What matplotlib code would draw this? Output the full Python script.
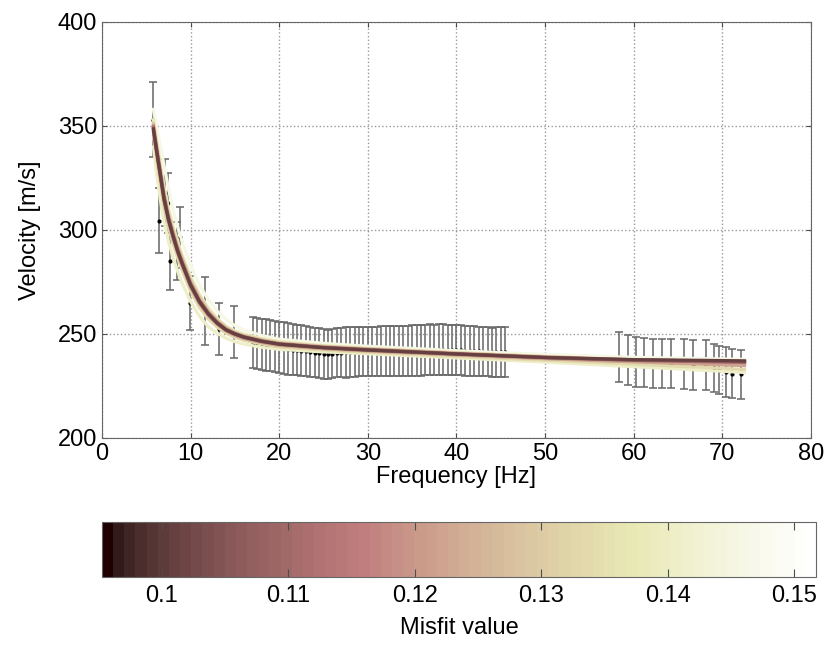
import numpy as np
import matplotlib
matplotlib.use('Agg')
import matplotlib.pyplot as plt
from matplotlib.colors import Normalize
from matplotlib.cm import ScalarMappable

plt.rcParams['font.family'] = ['Liberation Sans', 'DejaVu Sans']

# Measured dispersion data (frequency, velocity, error)
freq_low = [5.8, 6.4, 7.1, 7.5, 7.7, 8.5, 8.8, 9.9, 11.6, 13.2, 14.9]
vel_low = [353, 304.5, 318, 313, 285, 290, 296.5, 265, 261, 252.5, 251]
err_low = [18, 15.5, 16, 14.5, 14, 14, 14.7, 13, 16.5, 12.6, 12.5]

freq_mid = [17.0, 17.5, 18.0, 18.5, 19.0, 19.5, 20.0, 20.5, 21.0, 21.5,
            22.0, 22.5, 23.0, 23.5, 24.0, 24.5, 25.0, 25.5, 26.0, 26.5,
            27.0, 27.5, 28.0, 28.5, 29.0, 29.5, 30.0, 30.5, 31.0, 31.5,
            32.0, 32.5, 33.0, 33.5, 34.0, 34.5, 35.0, 35.5, 36.0, 36.5,
            37.0, 37.5, 38.0, 38.5, 39.0, 39.5, 40.0, 40.5, 41.0, 41.5,
            42.0, 42.5, 43.0, 43.5, 44.0, 44.5, 45.0, 45.5]
vel_mid = [245.9, 245.5, 245.1, 244.7, 244.3, 244.0, 243.6, 243.2, 242.8, 242.5,
           242.3, 242.0, 241.8, 241.5, 241.1, 240.7, 240.3, 240.2, 240.6, 240.9,
           241.1, 241.2, 241.3, 241.3, 241.4, 241.5, 241.5, 241.6, 241.7, 241.7,
           241.8, 241.8, 241.8, 241.8, 241.8, 241.9, 242.0, 242.1, 242.2, 242.3,
           242.4, 242.4, 242.5, 242.5, 242.4, 242.3, 242.3, 242.2, 242.0, 241.9,
           241.8, 241.6, 241.5, 241.4, 241.3, 241.3, 241.3, 241.3]
err_mid = [12.4, 12.4, 12.3, 12.3, 12.3, 12.2, 12.3, 12.4, 12.4, 12.3,
           12.2, 12.1, 12.0, 12.0, 12.0, 12.0, 12.0, 11.9, 11.8, 11.8,
           12.0, 12.2, 12.1, 12.0, 11.8, 11.7, 11.7, 11.8, 11.9, 12.0,
           12.0, 12.0, 12.0, 12.0, 12.0, 12.0, 12.1, 12.1, 12.2, 12.2,
           12.2, 12.1, 12.1, 12.1, 12.0, 12.0, 12.0, 12.0, 12.0, 12.0,
           12.0, 11.9, 11.9, 11.8, 11.8, 11.9, 11.9, 11.9]

freq_high = [58.3, 59.3, 60.3, 61.2, 62.2, 63.2, 64.2, 65.7, 66.7, 68.2,
             69.1, 69.6, 70.4, 71.1, 72.1]
vel_high = [239.1, 237.5, 236.6, 236.2, 235.8, 235.7, 235.6, 235.4, 235.1, 235.0,
            233.8, 232.7, 231.8, 231.0, 230.6]
err_high = [12, 12, 11.9, 11.8, 11.6, 11.8, 11.8, 12, 11.8, 11.9,
            11.5, 11.7, 11.9, 11.6, 11.8]

# Theoretical dispersion curves of the inverted models, with their misfit
model_freq = [5.8, 6.2, 6.6, 7.0, 7.5, 8.0, 8.5, 9.0, 10, 11, 12, 13, 14, 15, 16,
              18, 20, 25, 30, 40, 50, 60, 72.5]
misfits = [0.146, 0.141, 0.138, 0.134, 0.128, 0.122, 0.116, 0.111, 0.106, 0.101]
model_vel = [
    [358, 349, 340, 331, 320, 310, 302, 295, 283, 273.5, 266.5, 261, 257, 254, 252,
     249.3, 247.5, 245.5, 244.1, 242, 240.2, 238.8, 237.8],
    [340, 326, 314, 304, 294.5, 287, 280.5, 275, 265.5, 258.5, 253.5, 250.3, 248, 246.3, 245.2,
     243.6, 242.6, 241.4, 240.5, 238.5, 236.5, 234.3, 231.5],
    [353, 342, 331, 321, 310.5, 302, 295, 288.5, 277.5, 269, 262.5, 257.5, 253.8, 251.5, 249.9,
     247.8, 246.3, 244.4, 243.2, 241.1, 239.2, 237.5, 235.5],
    [345, 333, 322, 311, 301.5, 293.5, 287, 281, 270.5, 262.7, 257.2, 253.3, 250.4, 248.4, 247,
     245.2, 243.8, 242.3, 241.2, 239.2, 237.4, 235.5, 233],
    [351, 340, 329, 318, 308, 300, 293, 287, 276, 267.8, 261.2, 256.6, 253.1, 250.8, 249.3,
     247.3, 245.8, 244.1, 242.9, 240.9, 239.1, 237.6, 235.9],
    [347, 335.5, 324.5, 313.5, 303.8, 296, 289.2, 283.2, 272.3, 264.5, 258.8, 254.6, 251.4, 249.3, 247.8,
     245.9, 244.5, 242.9, 241.8, 239.9, 238.1, 236.6, 234.8],
    [350, 338.5, 327.5, 316.5, 306.5, 298.5, 291.5, 285.5, 274.5, 266.3, 260.3, 255.8, 252.4, 250.3, 248.8,
     246.8, 245.4, 243.7, 242.6, 240.6, 238.9, 237.6, 236.6],
    [348, 336.5, 325.5, 314.5, 304.8, 297, 290, 284, 273.2, 265.2, 259.4, 255, 251.8, 249.8, 248.3,
     246.4, 245, 243.4, 242.2, 240.3, 238.6, 237.3, 236.3],
    [349, 337.5, 326.5, 315.5, 305.5, 297.7, 290.7, 284.7, 273.8, 265.8, 259.9, 255.4, 252.1, 250.1, 248.6,
     246.6, 245.2, 243.5, 242.4, 240.4, 238.7, 237.5, 236.8],
    [348.5, 337, 326, 315, 305, 297.3, 290.3, 284.3, 273.5, 265.5, 259.6, 255.2, 252, 250, 248.5,
     246.5, 245.1, 243.4, 242.3, 240.4, 238.7, 237.7, 237.1],
]

fig = plt.figure(figsize=(8.28, 6.48), dpi=100)
ax = fig.add_axes([102 / 828, 1 - 438 / 648, 709 / 828, 416 / 648])

# error bars of the measured curve
for f, v, e in [(freq_low, vel_low, err_low), (freq_mid, vel_mid, err_mid),
                (freq_high, vel_high, err_high)]:
    ax.errorbar(f, v, yerr=e, fmt='.', color='k', ms=4, ecolor='0.4',
                elinewidth=1.1, capsize=3, capthick=1.1, zorder=2)

# model curves, worst misfit first so the best ones end on top
cmap = plt.get_cmap('pink', 64)
norm = Normalize(vmin=0.0953, vmax=0.1517)
for m, vel in sorted(zip(misfits, model_vel), key=lambda t: -t[0]):
    ax.plot(model_freq, vel, color=cmap(norm(m)), lw=2.3, zorder=3)

ax.set_xlim(0, 80)
ax.set_ylim(200, 400)
ax.set_xticks(range(0, 81, 10))
ax.set_yticks(range(200, 401, 50))
ax.grid(True, linestyle=':', color='0.6', lw=1)
ax.tick_params(direction='in', labelsize=17, top=True, right=True, color='0.3')
for s in ax.spines.values():
    s.set_color('0.4')
ax.set_xlabel('Frequency [Hz]', fontsize=17, labelpad=1)
ax.set_ylabel('Velocity [m/s]', fontsize=17, labelpad=12)

# colorbar for the misfit
cax = fig.add_axes([102 / 828, 1 - 577 / 648, 714 / 828, 55 / 648])
sm = ScalarMappable(norm=norm, cmap=cmap)
cb = fig.colorbar(sm, cax=cax, orientation='horizontal')
cb.set_ticks([0.10, 0.11, 0.12, 0.13, 0.14, 0.15])
cb.set_ticklabels(['0.1', '0.11', '0.12', '0.13', '0.14', '0.15'])
cb.ax.tick_params(direction='in', labelsize=17, top=True, bottom=True, length=6,
                  color='0.3', pad=6)
cb.outline.set_edgecolor('0.4')
cb.set_label('Misfit value', fontsize=17, labelpad=7)

plt.savefig('out.png', dpi=100)
